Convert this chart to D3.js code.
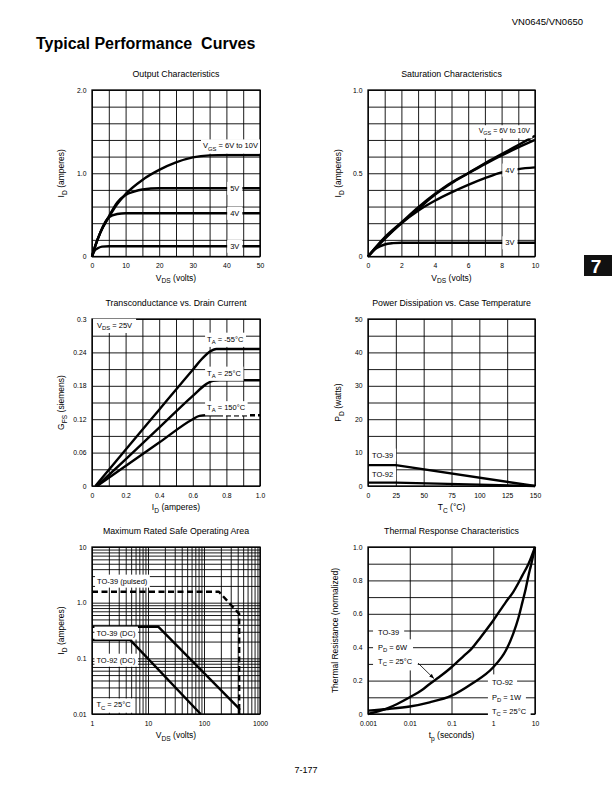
<!DOCTYPE html>
<html><head><meta charset="utf-8">
<script src="https://cdn.jsdelivr.net/npm/d3@7"></script>
<style>
body{margin:0;background:#fff}
svg{display:block}
text{font-family:"Liberation Sans",Arial,Helvetica,sans-serif;fill:#000}
</style>
</head><body>
<svg id="page" width="612" height="792"></svg>
<script>
// ---------------- DATA ----------------
// Output Characteristics (VDS volts, ID amperes)
const outXTicks = [0, 10, 20, 30, 40, 50];
const outXLabels = ["0", "10", "20", "30", "40", "50"];
const outYTicks = [0, 1.0, 2.0];
const outYLabels = ["0", "1.0", "2.0"];
const outVgs6to10 = [[0,0],[1,0.13],[2.5,0.29],[5,0.47],[7.5,0.63],[10,0.75],[15,0.92],[20,1.04],[25,1.13],[30,1.19],[35,1.215],[40,1.22],[50,1.22]];
const outVgs5 = [[0,0],[1,0.13],[2.5,0.29],[5,0.48],[7.5,0.65],[10,0.74],[12.5,0.78],[15,0.805],[20,0.82],[50,0.82]];
const outVgs4 = [[0,0],[1,0.13],[2.5,0.29],[4,0.42],[5,0.47],[7.5,0.51],[10,0.52],[50,0.52]];
const outVgs3 = [[0,0],[0.5,0.05],[1,0.08],[2,0.105],[3,0.118],[5,0.124],[50,0.124]];

// Saturation Characteristics
const satXTicks = [0, 2, 4, 6, 8, 10];
const satXLabels = ["0", "2", "4", "6", "8", "10"];
const satYTicks = [0, 0.5, 1.0];
const satYLabels = ["0", "0.5", "1.0"];
const satVgsA = [[0,0],[0.5,0.055],[1,0.105],[2,0.2],[3,0.285],[4,0.37],[5,0.44],[6,0.5],[7,0.56],[8,0.615],[9,0.67],[10,0.725]];
const satVgsB = [[0,0],[0.5,0.06],[1,0.115],[2,0.205],[3,0.295],[4,0.375],[5,0.445],[6,0.5],[7,0.555],[8,0.607],[9,0.655],[10,0.70]];
const satVgs4 = [[0,0],[1,0.11],[2,0.2],[3,0.275],[4,0.335],[5,0.385],[6,0.43],[7,0.47],[8,0.505],[9,0.525],[10,0.535]];
const satVgs3 = [[0,0],[0.5,0.05],[1,0.072],[1.5,0.08],[2,0.083],[10,0.083]];

// Transconductance vs. Drain Current
const gfsXTicks = [0, 0.2, 0.4, 0.6, 0.8, 1.0];
const gfsXLabels = ["0", "0.2", "0.4", "0.6", "0.8", "1.0"];
const gfsYTicks = [0, 0.06, 0.12, 0.18, 0.24, 0.3];
const gfsYLabels = ["0", "0.06", "0.12", "0.18", "0.24", "0.3"];
const gfsTm55 = [[0.02,0],[0.2,0.065],[0.4,0.137],[0.6,0.209],[0.66,0.23],[0.7,0.241],[0.74,0.246],[0.8,0.246],[1.0,0.246]];
const gfsT25 = [[0.03,0],[0.2,0.048],[0.4,0.105],[0.6,0.162],[0.68,0.183],[0.72,0.189],[0.76,0.19],[1.0,0.19]];
const gfsT150 = [[0.03,0],[0.2,0.036],[0.4,0.078],[0.6,0.12],[0.64,0.126],[0.68,0.127],[0.75,0.127]];
const gfsT150Dashed = [[0.75,0.127],[1.0,0.127]];

// Power Dissipation vs. Case Temperature
const pdXTicks = [0, 25, 50, 75, 100, 125, 150];
const pdXLabels = ["0", "25", "50", "75", "100", "125", "150"];
const pdYTicks = [0, 10, 20, 30, 40, 50];
const pdYLabels = ["0", "10", "20", "30", "40", "50"];
const pdTO39 = [[0,6.25],[25,6.25],[150,0]];
const pdTO92 = [[0,1.0],[25,1.0],[150,0]];

// Maximum Rated Safe Operating Area (log-log)
const soaXTicks = [1, 10, 100, 1000];
const soaXLabels = ["1", "10", "100", "1000"];
const soaYTicks = [0.01, 0.1, 1, 10];
const soaYLabels = ["0.01", "0.1", "1.0", "10"];
const soaTO39Pulsed = [[1,1.57],[185,1.57],[425,0.63],[425,0.01]];
const soaTO39DC = [[1,0.37],[15.2,0.37],[425,0.0125],[425,0.01]];
const soaTO92DC = [[1,0.215],[4.8,0.215],[87,0.01]];

// Thermal Response Characteristics
const thXTicks = [0.001, 0.01, 0.1, 1, 10];
const thXLabels = ["0.001", "0.01", "0.1", "1", "10"];
const thYTicks = [0, 0.2, 0.4, 0.6, 0.8, 1.0];
const thYLabels = ["0", "0.2", "0.4", "0.6", "0.8", "1.0"];
const thTO39 = [[0.001,0],[0.002,0.02],[0.003,0.035],[0.005,0.06],[0.01,0.1],[0.02,0.145],[0.03,0.18],[0.05,0.22],[0.1,0.28],[0.2,0.35],[0.3,0.39],[0.5,0.46],[1,0.56],[2,0.67],[3,0.73],[5,0.83],[7,0.9],[10,1.0]];
const thTO92 = [[0.001,0.02],[0.003,0.03],[0.01,0.045],[0.03,0.07],[0.1,0.11],[0.3,0.18],[1,0.28],[2,0.38],[3,0.48],[4,0.575],[5,0.67],[6,0.75],[7,0.83],[8,0.89],[10,1.0]];

// ---------------- DRAWING ----------------
const svg = d3.select("#page");
const FONT = '"Liberation Sans",Arial,Helvetica,sans-serif';
const INK = "#000";

function rich(t, str, fs) {
  const parts = str.split(/(_\{[^}]*\})/).filter(p => p.length);
  let prevSub = false;
  const off = fs * 0.3;
  parts.forEach(p => {
    if (p.startsWith("_{")) {
      t.append("tspan").attr("dy", off).attr("font-size", fs * 0.78).text(p.slice(2, -1));
      prevSub = true;
    } else {
      const ts = t.append("tspan").text(p);
      if (prevSub) ts.attr("dy", -off);
      prevSub = false;
    }
  });
}

function linRange(a, b, s) { const out = []; for (let v = a; v <= b + s * 1e-6; v += s) out.push(+v.toFixed(6)); return out; }
function logGrid(a, b) { const out = []; for (let d = a; d < b * 0.999; d *= 10) for (let k = 1; k < 10; k++) out.push(+(d * k).toPrecision(6)); out.push(b); return out; }

function makeChart(cfg) {
  const g = svg.append("g").attr("transform", `translate(${cfg.left},${cfg.top})`);
  const x = (cfg.xLog ? d3.scaleLog() : d3.scaleLinear()).domain(cfg.xDomain).range([0, cfg.w]);
  const y = (cfg.yLog ? d3.scaleLog() : d3.scaleLinear()).domain(cfg.yDomain).range([cfg.h, 0]);
  // grid
  g.append("g").attr("transform", `translate(0,${cfg.h})`)
    .call(d3.axisBottom(x).tickValues(cfg.xGrid).tickSize(-cfg.h).tickFormat(""))
    .call(s => { s.select(".domain").remove(); s.selectAll("line").attr("stroke", INK).attr("stroke-width", 0.9); });
  g.append("g")
    .call(d3.axisLeft(y).tickValues(cfg.yGrid).tickSize(-cfg.w).tickFormat(""))
    .call(s => { s.select(".domain").remove(); s.selectAll("line").attr("stroke", INK).attr("stroke-width", 0.9); });
  g.append("rect").attr("width", cfg.w).attr("height", cfg.h).attr("fill", "none").attr("stroke", INK).attr("stroke-width", 1.3);
  // tick labels
  g.append("g").attr("transform", `translate(0,${cfg.h})`)
    .call(d3.axisBottom(x).tickValues(cfg.xTicks).tickSize(0).tickPadding(7).tickFormat((d, i) => cfg.xTickLabels[i]))
    .call(s => { s.select(".domain").remove(); s.attr("font-family", FONT).attr("font-size", 6.8); s.selectAll("text").attr("fill", INK); });
  g.append("g")
    .call(d3.axisLeft(y).tickValues(cfg.yTicks).tickSize(0).tickPadding(5.5).tickFormat((d, i) => cfg.yTickLabels[i]))
    .call(s => { s.select(".domain").remove(); s.attr("font-family", FONT).attr("font-size", 6.8); s.selectAll("text").attr("fill", INK); });
  // title
  g.append("text").attr("x", cfg.w / 2).attr("y", -13).attr("text-anchor", "middle").attr("font-size", 8.8).text(cfg.title);
  // axis labels
  const xl = g.append("text").attr("x", cfg.w / 2).attr("y", cfg.h + 24).attr("text-anchor", "middle").attr("font-size", 8.5);
  rich(xl, cfg.xLabel, 8.5);
  const yl = g.append("text").attr("transform", `translate(${-(cfg.yLabelOff || 28)},${cfg.h / 2}) rotate(-90)`).attr("text-anchor", "middle").attr("font-size", 8.5);
  rich(yl, cfg.yLabel, 8.5);
  const curves = g.append("g");
  const labels = g.append("g");
  return { g, x, y, curves, labels };
}

function curve(ch, data, opts = {}) {
  const line = d3.line().x(d => ch.x(d[0])).y(d => ch.y(d[1])).curve(opts.curve || d3.curveMonotoneX);
  ch.curves.append("path").datum(data).attr("d", line).attr("fill", "none")
    .attr("stroke", INK).attr("stroke-width", opts.width || 2.4)
    .attr("stroke-linejoin", "round")
    .attr("stroke-dasharray", opts.dash || null);
}

function label(ch, xv, yv, str, opts = {}) {
  const fs = opts.fs || 7.5;
  const grp = ch.labels.append("g");
  const t = grp.append("text").attr("x", ch.x(xv)).attr("y", ch.y(yv) + fs * 0.35)
    .attr("text-anchor", opts.anchor || "start").attr("font-size", fs);
  rich(t, str, fs);
  if (opts.bg !== false) {
    const b = t.node().getBBox();
    const px = opts.padX == null ? 2 : opts.padX, py = opts.padY == null ? 2 : opts.padY;
    grp.insert("rect", "text").attr("x", b.x - px).attr("y", b.y - py)
      .attr("width", b.width + 2 * px).attr("height", b.height + 2 * py).attr("fill", "#fff");
  }
}

// Page header / footer
svg.append("text").attr("x", 583).attr("y", 25).attr("text-anchor", "end").attr("font-size", 9.5).text("VN0645/VN0650");
svg.append("text").attr("x", 36).attr("y", 49).attr("font-size", 16).attr("font-weight", "bold").style("white-space", "pre").text("Typical Performance  Curves");
svg.append("text").attr("x", 306).attr("y", 773).attr("text-anchor", "middle").attr("font-size", 9).text("7-177");
svg.append("rect").attr("x", 584).attr("y", 255).attr("width", 28).attr("height", 21).attr("fill", "#111");
svg.append("text").attr("x", 596).attr("y", 273).attr("text-anchor", "middle").attr("font-size", 19).attr("font-weight", "bold").style("fill", "#fff").text("7");

// Chart 1
const c1 = makeChart({ left: 92, top: 90, w: 168, h: 166.5, xDomain: [0, 50], yDomain: [0, 2.0],
  xGrid: linRange(0, 50, 5), yGrid: linRange(0, 2, 0.2),
  xTicks: outXTicks, xTickLabels: outXLabels, yTicks: outYTicks, yTickLabels: outYLabels,
  title: "Output Characteristics", xLabel: "V_{DS} (volts)", yLabel: "I_{D} (amperes)", yLabelOff: 28 });
curve(c1, outVgs6to10); curve(c1, outVgs5); curve(c1, outVgs4); curve(c1, outVgs3);
label(c1, 49.4, 1.33, "V_{GS} = 6V to 10V", { anchor: "end" });
label(c1, 42.5, 0.82, "5V", { anchor: "middle", padX: 3 });
label(c1, 42.5, 0.52, "4V", { anchor: "middle", padX: 3 });
label(c1, 42.5, 0.124, "3V", { anchor: "middle", padX: 3 });

// Chart 2
const c2 = makeChart({ left: 368, top: 90, w: 167, h: 166.5, xDomain: [0, 10], yDomain: [0, 1.0],
  xGrid: linRange(0, 10, 1), yGrid: linRange(0, 1, 0.1),
  xTicks: satXTicks, xTickLabels: satXLabels, yTicks: satYTicks, yTickLabels: satYLabels,
  title: "Saturation Characteristics", xLabel: "V_{DS} (volts)", yLabel: "I_{D} (amperes)", yLabelOff: 27 });
curve(c2, satVgsA); curve(c2, satVgsB); curve(c2, satVgs4); curve(c2, satVgs3);
label(c2, 9.7, 0.755, "V_{GS} = 6V to 10V", { anchor: "end", fs: 7 });
label(c2, 8.5, 0.52, "4V", { anchor: "middle", padX: 3 });
label(c2, 8.5, 0.083, "3V", { anchor: "middle", padX: 3 });

// Chart 3
const c3 = makeChart({ left: 92, top: 319, w: 168, h: 167, xDomain: [0, 1.0], yDomain: [0, 0.3],
  xGrid: linRange(0, 1, 0.1), yGrid: linRange(0, 0.3, 0.03),
  xTicks: gfsXTicks, xTickLabels: gfsXLabels, yTicks: gfsYTicks, yTickLabels: gfsYLabels,
  title: "Transconductance vs. Drain Current", xLabel: "I_{D} (amperes)", yLabel: "G_{FS} (siemens)", yLabelOff: 28 });
curve(c3, gfsTm55); curve(c3, gfsT25); curve(c3, gfsT150);
curve(c3, gfsT150Dashed, { curve: d3.curveLinear, dash: "5,3" });
label(c3, 0.03, 0.289, "V_{DS} = 25V", { padX: 4 });
label(c3, 0.685, 0.264, "T_{A} = -55°C");
label(c3, 0.685, 0.203, "T_{A} = 25°C");
label(c3, 0.685, 0.141, "T_{A} = 150°C");

// Chart 4
const c4 = makeChart({ left: 368, top: 319, w: 167, h: 167, xDomain: [0, 150], yDomain: [0, 50],
  xGrid: linRange(0, 150, 25), yGrid: linRange(0, 50, 5),
  xTicks: pdXTicks, xTickLabels: pdXLabels, yTicks: pdYTicks, yTickLabels: pdYLabels,
  title: "Power Dissipation vs. Case Temperature", xLabel: "T_{C} (°C)", yLabel: "P_{D} (watts)", yLabelOff: 27 });
curve(c4, pdTO39, { curve: d3.curveLinear }); curve(c4, pdTO92, { curve: d3.curveLinear });
label(c4, 3.6, 9.3, "TO-39", { padX: 3 });
label(c4, 3.6, 3.6, "TO-92", { padX: 3 });

// Chart 5
const c5 = makeChart({ left: 92, top: 547, w: 168, h: 167, xLog: true, yLog: true, xDomain: [1, 1000], yDomain: [0.01, 10],
  xGrid: logGrid(1, 1000), yGrid: logGrid(0.01, 10),
  xTicks: soaXTicks, xTickLabels: soaXLabels, yTicks: soaYTicks, yTickLabels: soaYLabels,
  title: "Maximum Rated Safe Operating Area", xLabel: "V_{DS} (volts)", yLabel: "I_{D} (amperes)", yLabelOff: 28 });
curve(c5, soaTO39Pulsed, { curve: d3.curveLinear, dash: "6,3.5" });
curve(c5, soaTO39DC, { curve: d3.curveLinear });
curve(c5, soaTO92DC, { curve: d3.curveLinear });
label(c5, 1.23, 2.45, "TO-39 (pulsed)", { padX: 2 });
label(c5, 1.2, 0.286, "TO-39 (DC)", { padX: 2 });
label(c5, 1.2, 0.093, "TO-92 (DC)", { padX: 2 });
label(c5, 1.2, 0.0146, "T_{C} = 25°C", { padX: 3 });

// Chart 6
const c6 = makeChart({ left: 368, top: 547, w: 167, h: 167, xLog: true, xDomain: [0.001, 10], yDomain: [0, 1.0],
  xGrid: thXTicks, yGrid: linRange(0, 1, 0.1),
  xTicks: thXTicks, xTickLabels: thXLabels, yTicks: thYTicks, yTickLabels: thYLabels,
  title: "Thermal Response Characteristics", xLabel: "t_{p} (seconds)", yLabel: "Thermal Resistance (normalized)", yLabelOff: 30 });
curve(c6, thTO39); curve(c6, thTO92);
label(c6, 0.00174, 0.49, "TO-39", { padX: 5, padY: 3.5 });
label(c6, 0.00174, 0.40, "P_{D} = 6W", { padX: 5, padY: 3.5 });
label(c6, 0.00174, 0.317, "T_{C} = 25°C", { padX: 5, padY: 3.5 });
label(c6, 0.93, 0.19, "TO-92", { padX: 4, padY: 3.5 });
label(c6, 0.93, 0.10, "P_{D} = 1W", { padX: 4, padY: 3.5 });
label(c6, 0.93, 0.018, "T_{C} = 25°C", { padX: 4, padY: 3 });
// annotation arrow
const defs = svg.append("defs");
defs.append("marker").attr("id", "ah").attr("viewBox", "0 0 10 10").attr("refX", 10).attr("refY", 5)
  .attr("markerWidth", 6).attr("markerHeight", 6).attr("orient", "auto")
  .append("path").attr("d", "M0,1 L10,5 L0,9 Z").attr("fill", INK);
c6.labels.append("line").attr("x1", c6.x(0.0158)).attr("y1", c6.y(0.305)).attr("x2", c6.x(0.038)).attr("y2", c6.y(0.212))
  .attr("stroke", INK).attr("stroke-width", 0.8).attr("marker-end", "url(#ah)");
</script>
</body></html>
